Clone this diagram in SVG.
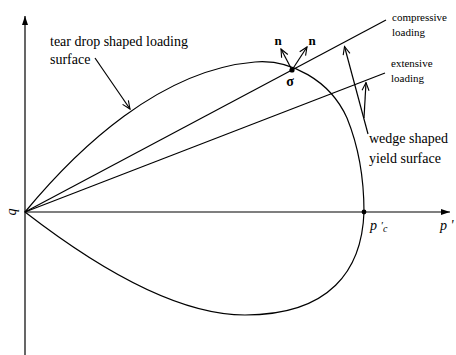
<svg xmlns="http://www.w3.org/2000/svg" width="456" height="355" viewBox="0 0 456 355">
<style>
.ln{fill:none;stroke:#000;stroke-width:1.2}
text{font-family:'Liberation Serif','DejaVu Serif',serif;fill:#000}
.sm{font-size:11px}
.md{font-size:14px}
.it{font-style:italic}
.b{font-weight:bold}
</style>
<defs>
<marker id="fa" markerWidth="10" markerHeight="8" refX="9" refY="4" orient="auto" markerUnits="userSpaceOnUse">
<path d="M0,1 L9,4 L0,7 Z" fill="#000"/>
</marker>
<marker id="oa" markerWidth="10" markerHeight="10" refX="9" refY="5" orient="auto" markerUnits="userSpaceOnUse">
<path d="M1,1.5 L9,5 L1,8.5" fill="none" stroke="#000" stroke-width="1.1"/>
</marker>
</defs>
<g id="axes">
<line class="ln" x1="25" y1="355" x2="25" y2="16" marker-end="url(#fa)"/>
<line class="ln" x1="25" y1="212" x2="450" y2="212" marker-end="url(#fa)"/>
<text class="md it" font-family="Liberation Serif, serif" transform="translate(16,212) rotate(-90)" text-anchor="middle">q</text>
<text class="md it" font-family="Liberation Serif, serif" x="440" y="230">p '</text>
</g>
<g id="loading-surface">
<path class="ln" d="M25,212 C78,148 160,70 255,62 C290,59 330,80 347,118 C360,150 364,185 364,212 C362,270 330,315 245,315 C180,315 100,270 25,212 Z"/>
<circle cx="364" cy="212" r="2.4" fill="#000"/>
<text class="md it" font-family="Liberation Serif, serif" x="370" y="230">p <tspan font-size="11" dy="-1">′</tspan><tspan font-size="10" dy="3">c</tspan></text>
</g>
<g id="yield-surface">
<line class="ln" x1="25" y1="212" x2="386" y2="20"/>
<line class="ln" x1="25" y1="212" x2="385" y2="73"/>
</g>
<g id="stress-point">
<circle cx="292" cy="70" r="2.6" fill="#000"/>
<text class="b" font-family="Liberation Sans, sans-serif" font-size="14" x="290" y="86" text-anchor="middle">σ</text>
<text class="b" font-family="Liberation Serif, serif" font-size="13" x="278" y="45" text-anchor="middle">n</text>
<text class="b" font-family="Liberation Serif, serif" font-size="13" x="312" y="45" text-anchor="middle">n</text>
</g>
<g id="connectors">
<line class="ln" x1="292" y1="70" x2="281" y2="49" marker-end="url(#oa)"/>
<line class="ln" x1="292" y1="70" x2="307" y2="47" marker-end="url(#oa)"/>
<line class="ln" x1="95" y1="58" x2="130" y2="109" marker-end="url(#oa)"/>
<line class="ln" x1="368" y1="134" x2="344.5" y2="46.5" marker-end="url(#oa)"/>
<line class="ln" x1="364" y1="118" x2="366" y2="82.5" marker-end="url(#oa)"/>
</g>
<g id="labels" font-family="Liberation Serif, serif">
<text class="md" font-family="Liberation Serif, serif" x="50" y="46">tear drop shaped loading</text>
<text class="md" font-family="Liberation Serif, serif" x="50" y="64">surface</text>
<text class="md" font-family="Liberation Serif, serif" x="369" y="143">wedge shaped</text>
<text class="md" font-family="Liberation Serif, serif" x="369" y="163">yield surface</text>
<text class="sm" font-family="Liberation Serif, serif" x="392" y="21">compressive</text>
<text class="sm" font-family="Liberation Serif, serif" x="392" y="36">loading</text>
<text class="sm" font-family="Liberation Serif, serif" x="391" y="67">extensive</text>
<text class="sm" font-family="Liberation Serif, serif" x="391" y="82">loading</text>
</g>
</svg>
